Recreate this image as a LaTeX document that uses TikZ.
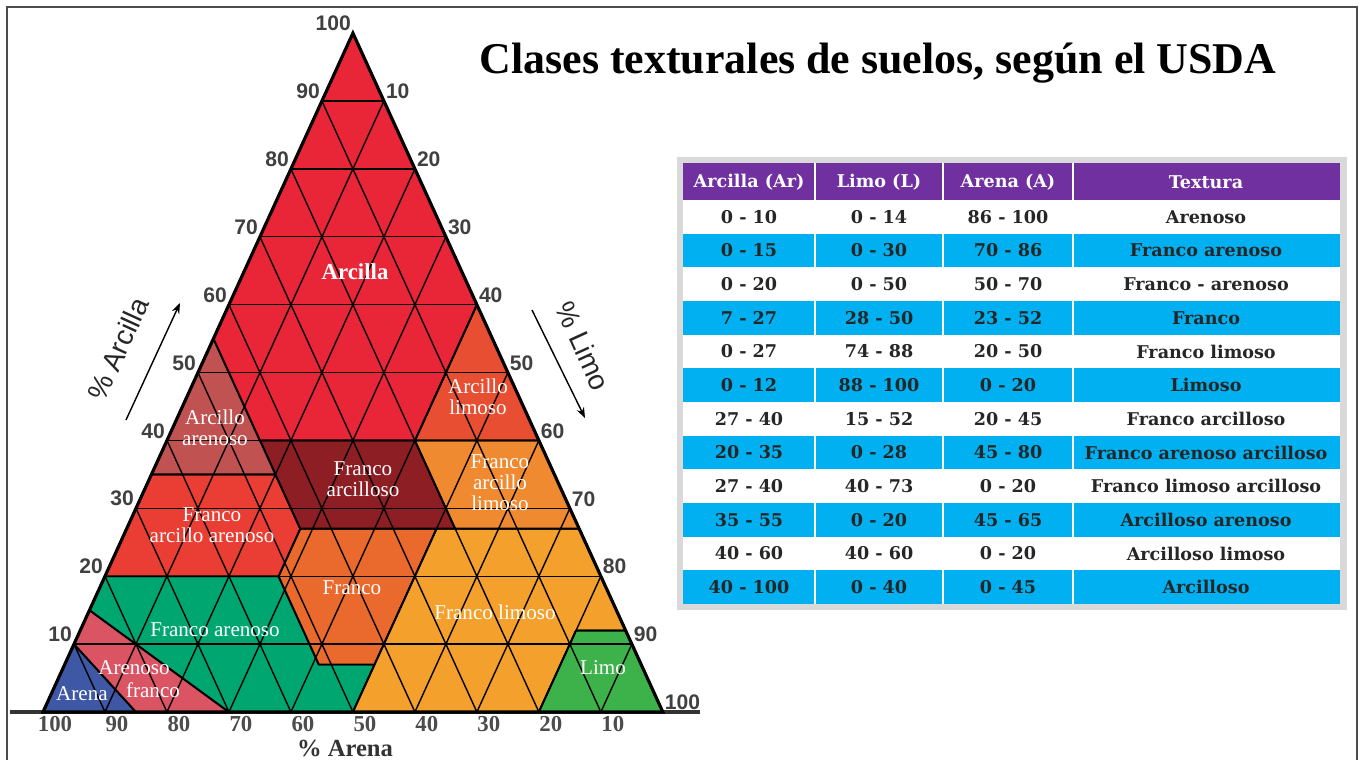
\documentclass[tikz,border=0pt]{standalone}
\usepackage{fontspec}
\setmainfont{Liberation Serif}
\setsansfont{Liberation Sans}
\newfontfamily\tablafont{DejaVu Serif}
\usetikzlibrary{arrows.meta}

\definecolor{cArcilla}{RGB}{233,37,56}
\definecolor{cArcArena}{RGB}{192,82,82}
\definecolor{cArcLimo}{RGB}{231,78,50}
\definecolor{cFrArc}{RGB}{140,30,36}
\definecolor{cFrArcLimo}{RGB}{240,138,48}
\definecolor{cFrArcArena}{RGB}{234,62,52}
\definecolor{cFranco}{RGB}{234,106,46}
\definecolor{cFrLimo}{RGB}{243,160,44}
\definecolor{cFrArena}{RGB}{0,166,112}
\definecolor{cArenoFr}{RGB}{219,84,100}
\definecolor{cArena}{RGB}{62,88,166}
\definecolor{cLimo}{RGB}{62,178,74}
\definecolor{cMorado}{RGB}{112,48,160}
\definecolor{cCian}{RGB}{0,176,240}

\tikzset{
  zone/.style={draw=black, line width=1.1pt, line join=round},
  gridline/.style={black, line width=0.8pt},
  zonelbl/.style={text=white, align=center, inner sep=0pt, font=\fontsize{12}{12}\selectfont},
  leftlbl/.style={anchor=south east, inner sep=1pt, text=black!75, font=\sffamily\bfseries\fontsize{12}{12}\selectfont},
  rightlbl/.style={anchor=south west, inner sep=1pt, text=black!75, font=\sffamily\bfseries\fontsize{12}{12}\selectfont},
  baselbl/.style={anchor=north, inner sep=2pt, text=black!70, font=\bfseries\fontsize{13}{13}\selectfont},
  axislbl/.style={text=black!85, font=\sffamily\fontsize{16}{16}\selectfont},
  headcell/.style={text=white, font=\tablafont\bfseries\fontsize{10}{10}\selectfont},
  cell/.style={text=black!85, font=\tablafont\bfseries\fontsize{10}{10}\selectfont}
}

\begin{document}
\begin{tikzpicture}[x=0.02cm, y=-0.02cm]
  \useasboundingbox (0,0) rectangle (1363,760);

  % outer frame
  \draw[black!70, line width=0.9pt] (7,760) -- (7,7) -- (1357,7) -- (1357,760);

  % title
  \node (titulo) at (878,63) {\fontsize{25}{25}\selectfont\bfseries Clases texturales de suelos, según el USDA};

  % base line
  \draw[black!80, line width=1.8pt] (10,712) -- (700,712);

  % triangle, coordinates are (silt, clay)
  \begin{scope}[shift={(43,712)}, x={(0.124cm,0cm)}, y={(0.062cm,0.1358cm)}]
    % zones
    \filldraw[zone, fill=cArena] (0,0) -- (15,0) -- (0,10) -- cycle;
    \filldraw[zone, fill=cArenoFr] (15,0) -- (30,0) -- (0,15) -- (0,10) -- cycle;
    \filldraw[zone, fill=cFrArena] (30,0) -- (50,0) -- (50,7) -- (41,7) -- (28,20) -- (0,20) -- (0,15) -- cycle;
    \filldraw[zone, fill=cFranco] (41,7) -- (50,7) -- (50,27) -- (28,27) -- (28,20) -- cycle;
    \filldraw[zone, fill=cFrLimo] (50,0) -- (80,0) -- (80,12) -- (88,12) -- (73,27) -- (50,27) -- cycle;
    \filldraw[zone, fill=cLimo] (80,0) -- (100,0) -- (88,12) -- (80,12) -- cycle;
    \filldraw[zone, fill=cFrArcArena] (0,20) -- (28,20) -- (28,27) -- (20,35) -- (0,35) -- cycle;
    \filldraw[zone, fill=cFrArc] (20,35) -- (28,27) -- (53,27) -- (40,40) -- (15,40) -- cycle;
    \filldraw[zone, fill=cFrArcLimo] (53,27) -- (73,27) -- (60,40) -- (40,40) -- cycle;
    \filldraw[zone, fill=cArcArena] (0,35) -- (20,35) -- (0,55) -- cycle;
    \filldraw[zone, fill=cArcLimo] (40,40) -- (60,40) -- (40,60) -- cycle;
    \filldraw[zone, fill=cArcilla] (0,55) -- (15,40) -- (40,40) -- (40,60) -- (0,100) -- cycle;

    % grid
    \foreach \v in {10,20,...,90} {
      \draw[gridline] (0,\v) -- ({100-\v},\v);
      \draw[gridline] (\v,0) -- (\v,{100-\v});
      \draw[gridline] (\v,0) -- (0,\v);
    }

    % outline
    \draw[line width=1.8pt, line join=miter] (0,0) -- (100,0) -- (0,100) -- cycle;

    % scale labels
    \foreach \v in {10,20,...,100} {
      \node[leftlbl] (arc\v) at (0,\v) {\v};
      \node[rightlbl] (lim\v) at (\v,{100-\v}) {\v};
    }
    \foreach \v in {100,90,...,10}
      \node[baselbl] (are\v) at ([xshift=0.24cm]{100-\v},0) {\v};
  \end{scope}

  % zone names
  \node[zonelbl, font=\bfseries\fontsize{13}{13}\selectfont] (lArcilla) at (355,272) {Arcilla};
  \node[zonelbl] (lArcArena) at (215,428) {Arcillo\\arenoso};
  \node[zonelbl] (lArcLimo) at (478,397) {Arcillo\\limoso};
  \node[zonelbl] (lFrArc) at (363,479) {Franco\\arcilloso};
  \node[zonelbl] (lFrArcLimo) at (500,483) {Franco\\arcillo\\limoso};
  \node[zonelbl] (lFrArcArena) at (212,525) {Franco\\arcillo arenoso};
  \node[zonelbl] (lFranco) at (352,588) {Franco};
  \node[zonelbl] (lFrLimo) at (495,612) {Franco limoso};
  \node[zonelbl] (lFrArena) at (215,630) {Franco arenoso};
  \node[zonelbl] (lArenoFr) at (134,668) {Arenoso};
  \node[zonelbl] (lArenoFrb) at (153,690) {franco};
  \node[zonelbl] (lArena) at (82,694) {Arena};
  \node[zonelbl] (lLimo) at (603,668) {Limo};

  % axis names
  \node[axislbl, rotate=65.5] (tArcilla) at (118,349) {\% Arcilla};
  \coordinate (fa1) at (126,420);
  \coordinate (fa2) at (180,303);
  \draw[-{Stealth[length=6pt]}, line width=0.8pt] (fa1) -- (fa2);

  \node[axislbl, rotate=-65.5] (tLimo) at (583,346) {\% Limo};
  \coordinate (fl1) at (532,310);
  \coordinate (fl2) at (585,418);
  \draw[-{Stealth[length=6pt]}, line width=0.8pt] (fl1) -- (fl2);

  \node[text=black!80, font=\bfseries\fontsize{14}{14}\selectfont] (tArena) at (345,748) {\% Arena};

  % table
  \fill[gray!30] (677,157) rectangle (1347,610);
  \fill[white] (683,163) rectangle (1340,604);
  \fill[cMorado] (683,163) rectangle (1340,200);
  \foreach \i in {2,4,...,12}
    \fill[cCian] (683,{200+33.67*(\i-1)}) rectangle (1340,{200+33.67*\i});
  \foreach \x in {815,943,1073}
    \draw[white, line width=0.6pt] (\x,163) -- (\x,604);

  \node[headcell] (h1) at (749,182) {Arcilla (Ar)};
  \node[headcell] (h2) at (879,182) {Limo (L)};
  \node[headcell] (h3) at (1008,182) {Arena (A)};
  \node[headcell] (h4) at (1206,182) {Textura};

  \foreach \ar/\li/\an/\tx [count=\i] in {
      0 - 10/0 - 14/86 - 100/Arenoso,
      0 - 15/0 - 30/70 - 86/Franco arenoso,
      0 - 20/0 - 50/50 - 70/Franco - arenoso,
      7 - 27/28 - 50/23 - 52/Franco,
      0 - 27/74 - 88/20 - 50/Franco limoso,
      0 - 12/88 - 100/0 - 20/Limoso,
      27 - 40/15 - 52/20 - 45/Franco arcilloso,
      20 - 35/0 - 28/45 - 80/Franco arenoso arcilloso,
      27 - 40/40 - 73/0 - 20/Franco limoso arcilloso,
      35 - 55/0 - 20/45 - 65/Arcilloso arenoso,
      40 - 60/40 - 60/0 - 20/Arcilloso limoso,
      40 - 100/0 - 40/0 - 45/Arcilloso} {
    \node[cell] (ar\i) at (749,{200+33.67*(\i-0.5)}) {\ar};
    \node[cell] (li\i) at (879,{200+33.67*(\i-0.5)}) {\li};
    \node[cell] (an\i) at (1008,{200+33.67*(\i-0.5)}) {\an};
    \node[cell] (tx\i) at (1206,{200+33.67*(\i-0.5)}) {\tx};
  }
\end{tikzpicture}
\end{document}
